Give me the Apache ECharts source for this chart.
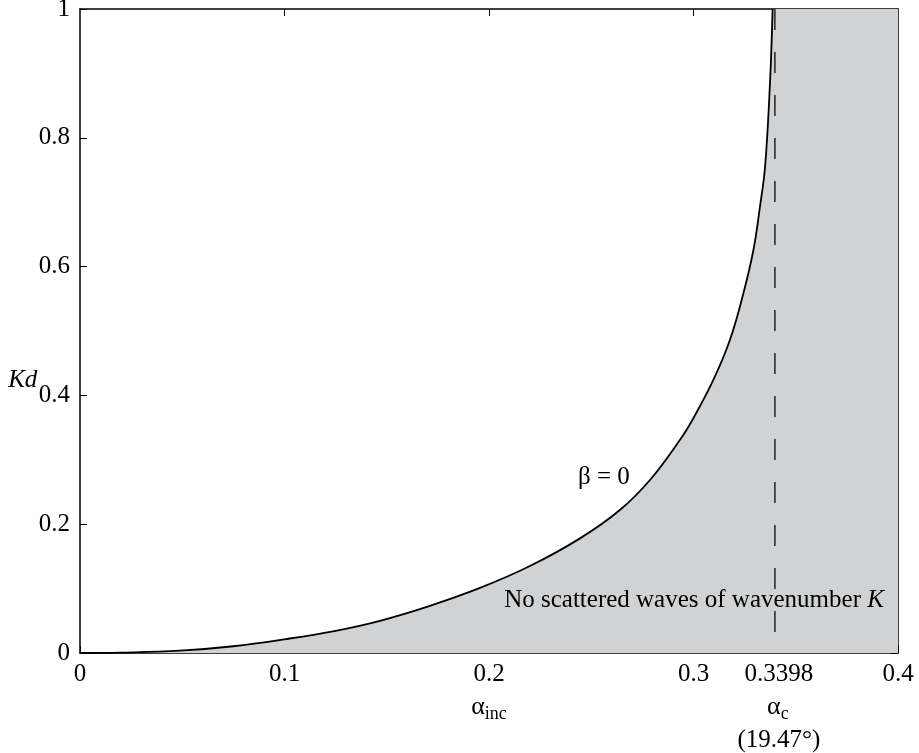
<!DOCTYPE html>
<html>
<head>
<meta charset="utf-8">
<script src="https://cdn.jsdelivr.net/npm/echarts@6/dist/echarts.min.js"></script>
<style>html,body{margin:0;padding:0;background:#fff;}#c{width:919px;height:753px;}</style>
</head>
<body>
<div id="c"></div>
<script>
// Data
const alphaInc = [0, 0.02, 0.0489, 0.075, 0.1, 0.125, 0.1467, 0.17, 0.1956, 0.22, 0.2445, 0.264, 0.2787, 0.2934, 0.3, 0.3097, 0.3178, 0.3244, 0.3293, 0.3325, 0.335, 0.3374, 0.3387];
const kd       = [0, 0.0006, 0.0036, 0.0105, 0.0213, 0.0345, 0.050, 0.072, 0.101, 0.135, 0.178, 0.222, 0.2686, 0.331, 0.365, 0.424, 0.486, 0.5586, 0.6258, 0.693, 0.755, 0.885, 1];
const alphaC = 0.3398;
const xTickValues = [0, 0.1, 0.2, 0.3, 0.3398, 0.4];
const xTopTicks = [0.1, 0.2, 0.3];
const yTickValues = [0, 0.2, 0.4, 0.6, 0.8, 1];

const FONT = 'Liberation Serif';
const FS = 25;
const LH = 33;
const curve = alphaInc.map((a, i) => [a, kd[i]]);
const fill = curve.concat([[0.4, 1]]);

const chart = echarts.init(document.getElementById('c'), null, {renderer: 'canvas'});
const axisLine = {show: true, onZero: false, lineStyle: {color: '#000', width: 1.5}};
const richX = {
  g: {fontFamily: FONT, fontSize: FS + 1, color: '#000', lineHeight: LH},
  gc: {fontFamily: FONT, fontSize: FS + 1, color: '#000', lineHeight: LH, padding: [0, 0, 0, 6]},
  s: {fontFamily: FONT, fontSize: 18, color: '#000', lineHeight: LH, padding: [14, 0, 0, 0]},
  n: {fontFamily: FONT, fontSize: FS, color: '#000', lineHeight: LH},
  nc: {fontFamily: FONT, fontSize: FS, color: '#000', lineHeight: LH, padding: [0, 0, 0, 8]}
};
function fmtX(v) {
  const r = Math.round(v * 10000) / 10000;
  if (Math.abs(r - 0.2) < 1e-9) return '{n|0.2}\n{g|α}{s|inc}';
  if (Math.abs(r - alphaC) < 1e-9) return '{nc|0.3398}\n{gc|α}{s|c}\n{nc|(19.47°)}';
  return '{n|' + String(r) + '}';
}
const option = {
  animation: false,
  backgroundColor: '#fff',
  grid: {left: 80, right: 21, top: 9, bottom: 100, outerBoundsMode: 'none', containLabel: false},
  xAxis: [
    {type: 'value', min: 0, max: 0.4, position: 'bottom', axisLine,
     axisTick: {show: true, inside: true, length: 7, customValues: xTickValues, lineStyle: {color: '#000', width: 1}},
     axisLabel: {show: true, customValues: xTickValues, formatter: fmtX, margin: 5, color: '#000', fontFamily: FONT, fontSize: FS, verticalAlign: 'top', lineHeight: LH, rich: richX},
     splitLine: {show: false}},
    {type: 'value', min: 0, max: 0.4, position: 'top', axisLine,
     axisTick: {show: true, inside: true, length: 7, customValues: xTopTicks, lineStyle: {color: '#000', width: 1}},
     axisLabel: {show: false}, splitLine: {show: false}}
  ],
  yAxis: [
    {type: 'value', min: 0, max: 1, interval: 0.2, position: 'left', axisLine,
     axisTick: {show: true, inside: true, length: 7, lineStyle: {color: '#000', width: 1}},
     axisLabel: {show: true, margin: 10, color: '#000', fontFamily: FONT, fontSize: FS,
       formatter: v => String(Math.round(v * 10) / 10)},
     splitLine: {show: false}},
    {type: 'value', min: 0, max: 1, interval: 0.2, position: 'right', axisLine,
     axisTick: {show: true, inside: true, length: 7, lineStyle: {color: '#000', width: 1}},
     axisLabel: {show: false}, splitLine: {show: false}}
  ],
  series: [
    {type: 'line', data: fill, symbol: 'none', silent: true, z: 1, smooth: 0.4,
     lineStyle: {width: 0, color: '#d1d2d4'}, areaStyle: {color: '#d1d2d4', opacity: 1}},
    {type: 'line', data: [[alphaC, 1], [alphaC, 0]], symbol: 'none', silent: true, z: 2,
     lineStyle: {color: '#222', width: 1.5, type: [21, 22]}},
    {type: 'line', data: curve, symbol: 'none', silent: true, z: 3, smooth: 0.4,
     lineStyle: {color: '#000', width: 1.8}}
  ]
};
chart.setOption(option);

const p = (x, y) => chart.convertToPixel({gridIndex: 0}, [x, y]);
const pb = p(0.2562, 0.273);
const pn = p(0.3931, 0.0823);
const pk = p(-0.028, 0.424);
chart.setOption({
  graphic: [
    {type: 'text', x: pb[0], y: pb[1], z: 10,
     style: {text: 'β = 0', fontFamily: FONT, fontSize: FS, fill: '#000', align: 'center', verticalAlign: 'middle'}},
    {type: 'text', x: pn[0], y: pn[1], z: 10,
     style: {text: '{a|No scattered waves of wavenumber }{b|K}', align: 'right', verticalAlign: 'middle',
       rich: {a: {fontFamily: FONT, fontSize: FS, fill: '#000'}, b: {fontFamily: FONT, fontSize: FS, fontStyle: 'italic', fill: '#000'}}}},
    {type: 'text', x: pk[0], y: pk[1], z: 10,
     style: {text: 'Kd', fontFamily: FONT, fontSize: FS, fontStyle: 'italic', fill: '#000', align: 'center', verticalAlign: 'middle'}}
  ]
});
</script>
</body>
</html>
